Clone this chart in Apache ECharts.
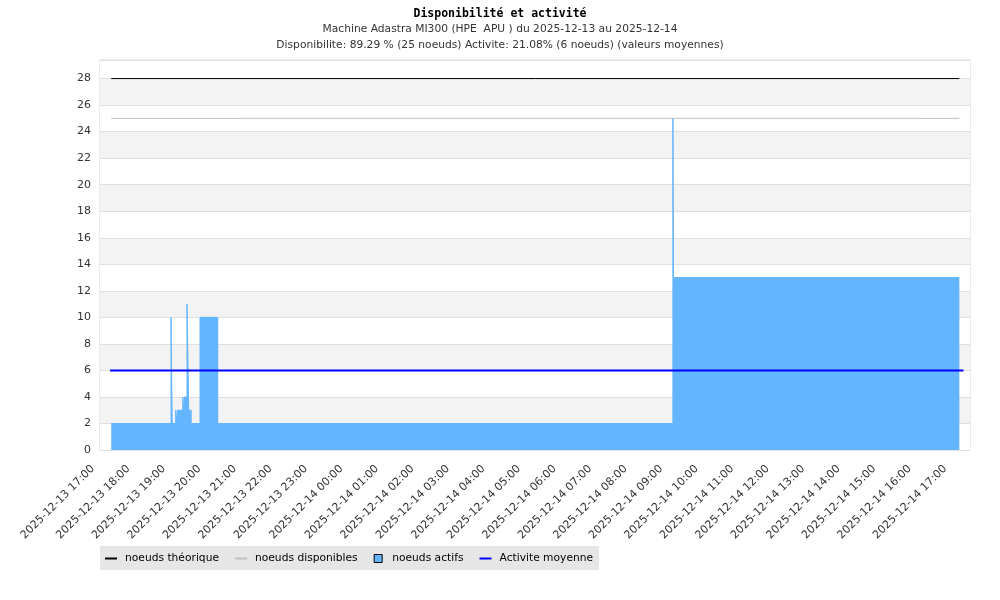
<!DOCTYPE html>
<html>
<head>
<meta charset="utf-8">
<script src="https://cdn.jsdelivr.net/npm/echarts@6/dist/echarts.min.js"></script>
<style>
  html, body { margin: 0; padding: 0; background: #fff; }
  #main { width: 1000px; height: 600px; }
</style>
</head>
<body>
<div id="main"></div>
<script>
// axis origin (first hour tick)
const axisStart = '2025-12-13 17:00'

// noeuds actifs (step changes)
const activeTimes = [
  '2025-12-13 17:19', '2025-12-13 19:00', '2025-12-13 19:02', '2025-12-13 19:08',
  '2025-12-13 19:09', '2025-12-13 19:11', '2025-12-13 19:20', '2025-12-13 19:21',
  '2025-12-13 19:23', '2025-12-13 19:27', '2025-12-13 19:30', '2025-12-13 19:34',
  '2025-12-13 19:49', '2025-12-13 20:19', '2025-12-14 09:08', '2025-12-14 09:09',
  '2025-12-14 17:12'
]
const activeValues = [2, 10, 2, 3, 2, 3, 4, 3, 4, 11, 3, 2, 10, 2, 25, 13, 13]

// noeuds theorique / disponibles
const periodTimes = ['2025-12-13 17:19', '2025-12-14 17:12']
const theoValues = [28, 28]
const dispoValues = [25, 25]

// activite moyenne
const avgTimes = ['2025-12-13 17:17', '2025-12-14 17:19']
const avgValues = [6, 6]

const hourTicks = 24

function toHours(s) {
  const p = s.split(/[- :]/).map(Number)
  const q = axisStart.split(/[- :]/).map(Number)
  const a = Date.UTC(p[0], p[1] - 1, p[2], p[3], p[4])
  const b = Date.UTC(q[0], q[1] - 1, q[2], q[3], q[4])
  return (a - b) / 3600000
}
function pad(n) { return (n < 10 ? '0' : '') + n }
function hourLabel(h) {
  if (Math.abs(h - Math.round(h)) > 1e-6 || h > hourTicks) return ''
  const q = axisStart.split(/[- :]/).map(Number)
  const d = new Date(Date.UTC(q[0], q[1] - 1, q[2], q[3], q[4]) + Math.round(h) * 3600000)
  return d.getUTCFullYear() + '-' + pad(d.getUTCMonth() + 1) + '-' + pad(d.getUTCDate()) +
    ' ' + pad(d.getUTCHours()) + ':' + pad(d.getUTCMinutes())
}
function zip(ts, vs) { return ts.map((t, i) => [toHours(t), vs[i]]) }

const chart = echarts.init(document.getElementById('main'))

const font = 'DejaVu Sans'
const option = {
  animation: false,
  title: [
    {
      text: 'Disponibilité et activité',
      left: 'center',
      top: 3,
      textStyle: { fontFamily: 'DejaVu Sans Mono', fontWeight: 'bold', fontSize: 11.5, color: '#000' }
    },
    {
      text: 'Machine Adastra MI300 (HPE  APU ) du 2025-12-13 au 2025-12-14\nDisponibilite: 89.29 % (25 noeuds) Activite: 21.08% (6 noeuds) (valeurs moyennes)',
      left: 'center',
      top: 16,
      textStyle: { fontFamily: font, fontWeight: 'normal', fontSize: 10.7, color: '#333', lineHeight: 16 }
    }
  ],
  legend: {
    left: 100,
    top: 546,
    itemWidth: 12,
    itemHeight: 8,
    itemGap: 16,
    padding: [7, 6, 6, 5],
    backgroundColor: '#e6e6e6',
    textStyle: { fontFamily: font, fontSize: 10.7, color: '#000', padding: [0, 0, 0, 3] },
    data: [
      { name: 'noeuds théorique', icon: 'path://M0,0h12v2h-12z', itemStyle: { color: '#000' } },
      { name: 'noeuds disponibles', icon: 'path://M0,0h12v2h-12z', itemStyle: { color: '#c0c0c0' } },
      { name: 'noeuds actifs', icon: 'path://M0,0h8v8h-8z', itemStyle: { color: '#63b5ff', borderColor: '#000', borderWidth: 1 } },
      { name: 'Activite moyenne', icon: 'path://M0,0h12v2h-12z', itemStyle: { color: '#0000ff' } }
    ]
  },
  grid: {
    left: 100,
    right: 30,
    top: 60,
    bottom: 150,
    show: true,
    borderColor: '#d8d8d8',
    borderWidth: 1,
    backgroundColor: '#fff'
  },
  xAxis: {
    type: 'value',
    min: 0,
    max: 24.5,
    interval: 1,
    axisLine: { show: false },
    axisTick: { show: false },
    splitLine: { show: false },
    axisLabel: {
      rotate: 45,
      margin: 10,
      padding: [0, 10, 0, 0],
      fontFamily: font,
      fontSize: 11,
      color: '#333',
      showMaxLabel: false,
      formatter: hourLabel
    }
  },
  yAxis: {
    type: 'value',
    min: 0,
    max: 29.4,
    interval: 2,
    axisLine: { show: false },
    axisTick: { show: false },
    axisLabel: {
      margin: 9,
      fontFamily: font,
      fontSize: 11,
      color: '#333',
      showMaxLabel: false,
      formatter: (v) => (Math.abs(v % 2) < 1e-6 ? String(v) : '')
    },
    splitLine: { lineStyle: { color: '#e0e0e0', width: 1 } },
    splitArea: { show: true, areaStyle: { color: ['#ffffff', '#f3f3f3'] } }
  },
  series: [
    {
      name: 'noeuds actifs',
      type: 'line',
      step: 'end',
      symbol: 'none',
      data: zip(activeTimes, activeValues),
      lineStyle: { color: '#63b5ff', width: 1 },
      areaStyle: { color: '#63b5ff', opacity: 1 },
      itemStyle: { color: '#63b5ff' },
      z: 2
    },
    {
      name: 'noeuds théorique',
      type: 'line',
      symbol: 'none',
      data: zip(periodTimes, theoValues),
      lineStyle: { color: '#000', width: 1 },
      itemStyle: { color: '#000' },
      z: 3
    },
    {
      name: 'noeuds disponibles',
      type: 'line',
      symbol: 'none',
      data: zip(periodTimes, dispoValues),
      lineStyle: { color: '#c0c0c0', width: 1 },
      itemStyle: { color: '#c0c0c0' },
      z: 3
    },
    {
      name: 'Activite moyenne',
      type: 'line',
      symbol: 'none',
      data: zip(avgTimes, avgValues),
      lineStyle: { color: '#0000ff', width: 2 },
      itemStyle: { color: '#0000ff' },
      z: 4
    }
  ]
}

chart.setOption(option)
</script>
</body>
</html>
